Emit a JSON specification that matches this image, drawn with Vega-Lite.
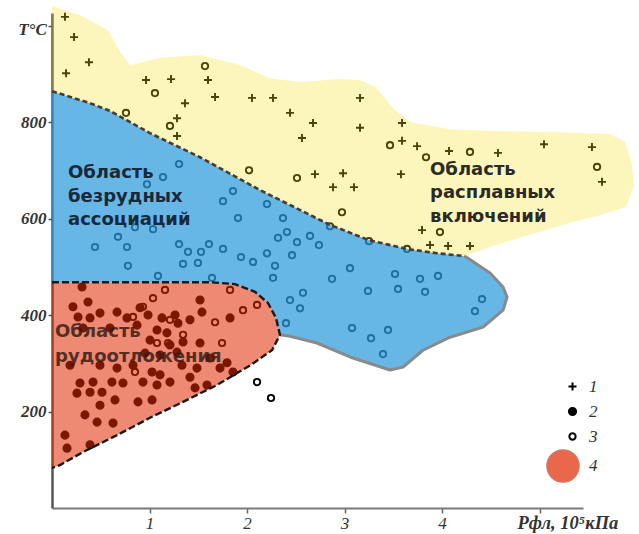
{
  "$schema": "https://vega.github.io/schema/vega-lite/v6.json",
  "width": 531,
  "height": 495,
  "autosize": {"type": "none"},
  "padding": {"left": 52, "top": 13, "right": 56, "bottom": 26},
  "background": "white",
  "config": {"view": {"stroke": null}},
  "datasets": {
    "pts": [
      {"type":"1","x":0.133,"T":1018},{"type":"1","x":0.226,"T":976},{"type":"1","x":0.379,"T":924},{"type":"1","x":0.144,"T":901},{"type":"1","x":0.964,"T":887},{"type":"1","x":1.221,"T":889},{"type":"1","x":1.6,"T":887},{"type":"1","x":1.364,"T":839},{"type":"1","x":1.672,"T":852},{"type":"1","x":2.051,"T":850},{"type":"1","x":2.267,"T":850},{"type":"1","x":2.441,"T":819},{"type":"1","x":1.282,"T":808},{"type":"1","x":1.282,"T":771},{"type":"1","x":2.677,"T":798},{"type":"1","x":2.564,"T":767},{"type":"1","x":3.159,"T":850},{"type":"1","x":3.159,"T":788},{"type":"1","x":3.59,"T":798},{"type":"1","x":3.59,"T":761},{"type":"1","x":3.744,"T":750},{"type":"1","x":4.072,"T":740},{"type":"1","x":4.574,"T":736},{"type":"1","x":5.046,"T":754},{"type":"1","x":5.538,"T":748},{"type":"1","x":5.641,"T":676},{"type":"1","x":2.697,"T":692},{"type":"1","x":2.985,"T":694},{"type":"1","x":2.882,"T":665},{"type":"1","x":3.097,"T":665},{"type":"1","x":3.579,"T":692},{"type":"1","x":3.795,"T":576},{"type":"1","x":3.877,"T":545},{"type":"1","x":4.062,"T":543},{"type":"1","x":4.287,"T":543},
      {"type":"3","x":1.569,"T":916},{"type":"3","x":1.056,"T":860},{"type":"3","x":0.759,"T":819},{"type":"3","x":1.21,"T":792},{"type":"3","x":2.021,"T":700},{"type":"3","x":2.513,"T":684},{"type":"3","x":3.467,"T":752},{"type":"3","x":3.836,"T":727},{"type":"3","x":4.287,"T":738},{"type":"3","x":5.59,"T":707},{"type":"3","x":2.974,"T":613},{"type":"3","x":3.979,"T":572},{"type":"3","x":2.851,"T":584},{"type":"3","x":3.251,"T":553},{"type":"3","x":3.641,"T":537},
      {"type":"3","x":1.303,"T":713},{"type":"3","x":1.138,"T":686},{"type":"3","x":0.974,"T":671},{"type":"3","x":1.856,"T":657},{"type":"3","x":1.754,"T":636},{"type":"3","x":2.205,"T":630},{"type":"3","x":1.908,"T":601},{"type":"3","x":2.369,"T":601},{"type":"3","x":2.41,"T":572},{"type":"3","x":2.318,"T":560},{"type":"3","x":0.677,"T":562},{"type":"3","x":0.769,"T":541},{"type":"3","x":0.441,"T":541},{"type":"3","x":1.303,"T":547},{"type":"3","x":1.395,"T":531},{"type":"3","x":1.528,"T":531},{"type":"3","x":1.61,"T":547},{"type":"3","x":1.754,"T":537},{"type":"3","x":1.344,"T":506},{"type":"3","x":1.497,"T":508},{"type":"3","x":1.938,"T":520},{"type":"3","x":2.062,"T":510},{"type":"3","x":2.205,"T":528},{"type":"3","x":2.287,"T":502},{"type":"3","x":0.779,"T":502},{"type":"3","x":1.087,"T":481},{"type":"3","x":1.641,"T":477},{"type":"3","x":2.267,"T":477},{"type":"3","x":0.851,"T":582},{"type":"3","x":1.036,"T":578},{"type":"3","x":2.513,"T":551},{"type":"3","x":2.646,"T":564},{"type":"3","x":2.738,"T":545},{"type":"3","x":2.462,"T":524},{"type":"3","x":3.056,"T":497},{"type":"3","x":2.872,"T":475},{"type":"3","x":3.518,"T":485},{"type":"3","x":3.241,"T":450},{"type":"3","x":3.549,"T":454},{"type":"3","x":3.774,"T":475},{"type":"3","x":3.826,"T":448},{"type":"3","x":3.959,"T":481},{"type":"3","x":4.41,"T":433},{"type":"3","x":4.338,"T":408},{"type":"3","x":2.574,"T":446},{"type":"3","x":2.441,"T":431},{"type":"3","x":2.544,"T":414},{"type":"3","x":2.4,"T":383},{"type":"3","x":3.077,"T":373},{"type":"3","x":3.446,"T":369},{"type":"3","x":3.272,"T":352},{"type":"3","x":3.395,"T":319},
      {"type":"3","x":2.103,"T":261},{"type":"3","x":2.246,"T":228},
      {"type":"3","x":1.159,"T":452},{"type":"3","x":1.036,"T":435},{"type":"3","x":0.933,"T":417},{"type":"3","x":0.831,"T":396},{"type":"3","x":1.21,"T":390},{"type":"3","x":1.344,"T":359},{"type":"3","x":1.19,"T":342},{"type":"3","x":1.077,"T":342},{"type":"3","x":1.672,"T":385},{"type":"3","x":1.826,"T":452},{"type":"3","x":1.959,"T":410},{"type":"3","x":2.103,"T":421},{"type":"3","x":1.744,"T":342},{"type":"3","x":0.851,"T":282},
      {"type":"2","x":0.308,"T":458},{"type":"2","x":0.369,"T":427},{"type":"2","x":0.215,"T":417},{"type":"2","x":0.492,"T":404},{"type":"2","x":0.267,"T":396},{"type":"2","x":0.39,"T":394},{"type":"2","x":0.318,"T":373},{"type":"2","x":0.595,"T":373},{"type":"2","x":0.903,"T":415},{"type":"2","x":0.985,"T":400},{"type":"2","x":0.872,"T":379},{"type":"2","x":1.128,"T":394},{"type":"2","x":1.262,"T":400},{"type":"2","x":1.518,"T":431},{"type":"2","x":1.538,"T":406},{"type":"2","x":1.415,"T":390},{"type":"2","x":1.292,"T":383},{"type":"2","x":1.826,"T":394},{"type":"2","x":1.077,"T":369},{"type":"2","x":1.179,"T":363},{"type":"2","x":1.005,"T":348},{"type":"2","x":1.21,"T":338},{"type":"2","x":0.954,"T":321},{"type":"2","x":0.831,"T":296},{"type":"2","x":0.185,"T":296},{"type":"2","x":0.492,"T":296},{"type":"2","x":0.667,"T":290},{"type":"2","x":0.421,"T":261},{"type":"2","x":0.287,"T":259},{"type":"2","x":0.615,"T":261},{"type":"2","x":0.728,"T":259},{"type":"2","x":0.933,"T":261},{"type":"2","x":1.026,"T":282},{"type":"2","x":1.108,"T":276},{"type":"2","x":1.21,"T":261},{"type":"2","x":1.333,"T":296},{"type":"2","x":1.415,"T":271},{"type":"2","x":1.487,"T":290},{"type":"2","x":1.621,"T":311},{"type":"2","x":1.723,"T":290},{"type":"2","x":1.795,"T":301},{"type":"2","x":1.59,"T":255},{"type":"2","x":1.467,"T":249},{"type":"2","x":1.077,"T":255},{"type":"2","x":0.256,"T":238},{"type":"2","x":0.513,"T":240},{"type":"2","x":0.39,"T":240},{"type":"2","x":0.646,"T":224},{"type":"2","x":0.492,"T":213},{"type":"2","x":0.882,"T":220},{"type":"2","x":1.026,"T":224},{"type":"2","x":0.338,"T":193},{"type":"2","x":0.462,"T":178},{"type":"2","x":0.626,"T":176},{"type":"2","x":0.133,"T":151},{"type":"2","x":0.154,"T":124},{"type":"2","x":0.39,"T":131},{"type":"2","x":1.282,"T":323},{"type":"2","x":1.344,"T":344},{"type":"2","x":1.518,"T":342},{"type":"2","x":1.108,"T":317},{"type":"2","x":0.769,"T":394},{"type":"2","x":0.667,"T":406},{"type":"2","x":1.856,"T":282}
    ],
    "melt": [
      {"i":0,"x":0,"T":1040},{"i":1,"x":0.287,"T":1022},{"i":2,"x":0.574,"T":991},{"i":3,"x":0.677,"T":953},{"i":4,"x":0.8,"T":918},{"i":5,"x":1.108,"T":933},{"i":6,"x":1.518,"T":939},{"i":7,"x":1.928,"T":918},{"i":8,"x":2.236,"T":891},{"i":9,"x":2.544,"T":883},{"i":10,"x":2.954,"T":889},{"i":11,"x":3.159,"T":887},{"i":12,"x":3.313,"T":873},{"i":13,"x":3.518,"T":825},{"i":14,"x":3.672,"T":800},{"i":15,"x":4.082,"T":785},{"i":16,"x":4.595,"T":781},{"i":17,"x":5.21,"T":779},{"i":18,"x":5.723,"T":775},{"i":19,"x":5.877,"T":759},{"i":20,"x":5.949,"T":711},{"i":21,"x":5.969,"T":669},{"i":22,"x":5.887,"T":624},{"i":23,"x":5.621,"T":607},{"i":24,"x":5.344,"T":593},{"i":25,"x":4.831,"T":562},{"i":26,"x":4.492,"T":541},{"i":27,"x":4.236,"T":522},{"i":28,"x":3.949,"T":528},{"i":29,"x":3.641,"T":537},{"i":30,"x":3.251,"T":555},{"i":31,"x":2.851,"T":587},{"i":32,"x":2.749,"T":597},{"i":33,"x":2.441,"T":628},{"i":34,"x":2.133,"T":659},{"i":35,"x":1.518,"T":727},{"i":36,"x":1.005,"T":777},{"i":37,"x":0.595,"T":823},{"i":38,"x":0.39,"T":839},{"i":39,"x":0,"T":864}
    ],
    "barren": [
      {"i":0,"x":0,"T":864},{"i":1,"x":0.39,"T":839},{"i":2,"x":0.595,"T":823},{"i":3,"x":1.005,"T":777},{"i":4,"x":1.518,"T":727},{"i":5,"x":2.133,"T":659},{"i":6,"x":2.441,"T":628},{"i":7,"x":2.749,"T":597},{"i":8,"x":2.851,"T":587},{"i":9,"x":3.251,"T":555},{"i":10,"x":3.641,"T":537},{"i":11,"x":3.949,"T":528},{"i":12,"x":4.236,"T":522},{"i":13,"x":4.492,"T":487},{"i":14,"x":4.626,"T":458},{"i":15,"x":4.667,"T":437},{"i":16,"x":4.626,"T":410},{"i":17,"x":4.421,"T":375},{"i":18,"x":4.082,"T":354},{"i":19,"x":3.805,"T":327},{"i":20,"x":3.6,"T":292},{"i":21,"x":3.467,"T":286},{"i":22,"x":3.056,"T":313},{"i":23,"x":2.718,"T":342},{"i":24,"x":2.441,"T":356},{"i":25,"x":2.338,"T":359},{"i":26,"x":2.297,"T":394},{"i":27,"x":2.215,"T":425},{"i":28,"x":2.082,"T":448},{"i":29,"x":1.877,"T":464},{"i":30,"x":1.621,"T":468},{"i":31,"x":0,"T":468}
    ],
    "ore": [
      {"i":0,"x":0,"T":468,"zone":"4"},{"i":1,"x":1.621,"T":468,"zone":"4"},{"i":2,"x":1.877,"T":464,"zone":"4"},{"i":3,"x":2.082,"T":448,"zone":"4"},{"i":4,"x":2.215,"T":425,"zone":"4"},{"i":5,"x":2.297,"T":394,"zone":"4"},{"i":6,"x":2.338,"T":359,"zone":"4"},{"i":7,"x":2.256,"T":327,"zone":"4"},{"i":8,"x":2.051,"T":298,"zone":"4"},{"i":9,"x":1.692,"T":255,"zone":"4"},{"i":10,"x":1.344,"T":220,"zone":"4"},{"i":11,"x":1.005,"T":187,"zone":"4"},{"i":12,"x":0.667,"T":151,"zone":"4"},{"i":13,"x":0.318,"T":116,"zone":"4"},{"i":14,"x":0.082,"T":89,"zone":"4"},{"i":15,"x":0,"T":83,"zone":"4"}
    ],
    "lblBlue": [
      {"s":"Область","x":0.164,"T":694},{"s":"безрудных","x":0.164,"T":645},{"s":"ассоциаций","x":0.164,"T":597}
    ],
    "lblYellow": [
      {"s":"Область","x":3.877,"T":700},{"s":"расплавных","x":3.877,"T":653},{"s":"включений","x":3.877,"T":603}
    ],
    "lblOre": [
      {"s":"Область","x":0.031,"T":365},{"s":"рудоотложения","x":0.031,"T":313}
    ]
  },
  "encoding": {
    "x": {"field":"x","type":"quantitative",
      "scale":{"domain":[0,5.446],"nice":false,"zero":false},
      "axis":{"values":[1,2,3,4,5],"format":"d","labelExpr":"datum.value == 5 ? '' : datum.label","grid":false,
        "domainColor":"#7a7a7a","domainWidth":2,"tickColor":"#666","tickWidth":1.5,"tickSize":5,
        "labelFont":"Liberation Serif","labelFontStyle":"italic","labelFontSize":17,"labelColor":"#333","labelPadding":2,
        "title":"Рфл, 10⁵кПа","titleFont":"Liberation Serif","titleFontStyle":"italic","titleFontWeight":"bold","titleFontSize":18.5,
        "titleColor":"#333","titleX":465,"titleY":14,"titleAlign":"left","titleBaseline":"middle","titleAnchor":null}},
    "y": {"field":"T","type":"quantitative",
      "scale":{"domain":[0,1026],"nice":false,"zero":false},
      "axis":{"values":[200,400,600,800,1000],"format":"d","labelExpr":"datum.value == 1000 ? '' : datum.label","grid":false,
        "domainColor":"#555","domainWidth":2.5,"tickColor":"#555","tickWidth":1.5,"tickSize":4,
        "labelFont":"Liberation Serif","labelFontStyle":"italic","labelFontWeight":"bold","labelFontSize":17,"labelColor":"#333","labelPadding":2,
        "title":"T°C","titleFont":"Liberation Serif","titleFontStyle":"italic","titleFontWeight":"bold","titleFontSize":17,
        "titleColor":"#333","titleAngle":0,"titleX":-20,"titleY":16,"titleAlign":"center","titleBaseline":"middle"}}
  },
  "layer": [
    {
      "data": {"name": "pts"},
      "mark": {"type": "point", "strokeWidth": 1.9, "opacity": 1},
      "encoding": {
        "shape": {"field":"type","type":"nominal","scale":{"domain":["1","2","3"],"range":["M-1,0L1,0M0,-1L0,1","circle","circle"]},
          "legend":{"title":null,"orient":"none","legendX":512,"legendY":365,"padding":0,"symbolStrokeWidth":2,"rowPadding":7,
            "labelFont":"Liberation Serif","labelFontStyle":"italic","labelFontSize":17,"labelColor":"#333","labelOffset":8}},
        "fill": {"field":"type","type":"nominal","scale":{"domain":["1","2","3"],"range":["transparent","#000","transparent"]},
          "legend":{"title":null,"orient":"none","legendX":512,"legendY":365,"padding":0,"symbolStrokeWidth":2,"rowPadding":7,
            "labelFont":"Liberation Serif","labelFontStyle":"italic","labelFontSize":17,"labelColor":"#333","labelOffset":8}},
        "stroke": {"field":"type","type":"nominal","scale":{"domain":["1","2","3"],"range":["#000","#000","#000"]},
          "legend":{"title":null,"orient":"none","legendX":512,"legendY":365,"padding":0,"symbolStrokeWidth":2,"rowPadding":7,
            "labelFont":"Liberation Serif","labelFontStyle":"italic","labelFontSize":17,"labelColor":"#333","labelOffset":8}},
        "size": {"field":"type","type":"nominal","scale":{"domain":["1","2","3"],"range":[64,40,30]},
          "legend":{"title":null,"orient":"none","legendX":512,"legendY":365,"padding":0,"symbolStrokeWidth":2,"rowPadding":7,
            "labelFont":"Liberation Serif","labelFontStyle":"italic","labelFontSize":17,"labelColor":"#333","labelOffset":8}}
      }
    },
    {
      "data": {"name": "melt"},
      "mark": {"type":"line","interpolate":"linear-closed","filled":true,"fill":"#f5e126","opacity":0.3,"strokeWidth":0},
      "encoding": {"order":{"field":"i","type":"quantitative"}}
    },
    {
      "data": {"name": "barren"},
      "mark": {"type":"line","interpolate":"linear-closed","filled":true,"fill":"#2d9bdc","opacity":0.72,"strokeWidth":0},
      "encoding": {"order":{"field":"i","type":"quantitative"}}
    },
    {
      "data": {"name": "ore"},
      "mark": {"type":"line","interpolate":"linear-closed","filled":true,"opacity":0.55,"strokeWidth":0},
      "encoding": {
        "order":{"field":"i","type":"quantitative"},
        "color":{"field":"zone","type":"nominal","scale":{"domain":["4"],"range":["#e02800"]},
          "legend":{"title":null,"orient":"none","legendX":494,"legendY":436,"padding":0,"symbolType":"circle","symbolSize":1050,
            "symbolOpacity":0.7,"symbolStrokeColor":"#b8462a","symbolStrokeWidth":1.2,
            "labelFont":"Liberation Serif","labelFontStyle":"italic","labelFontSize":17,"labelColor":"#333","labelOffset":9}}
      }
    },
    {
      "data": {"name": "barren"},
      "transform": [{"filter": "datum.i <= 12"}],
      "mark": {"type":"line","stroke":"#4a3b2c","strokeWidth":2.6,"strokeDash":[5,3]},
      "encoding": {"order":{"field":"i","type":"quantitative"}}
    },
    {
      "data": {"name": "barren"},
      "transform": [{"filter": "datum.i >= 12 && datum.i <= 25"}],
      "mark": {"type":"line","stroke":"#8a8a8a","strokeWidth":3,"strokeJoin":"round"},
      "encoding": {"order":{"field":"i","type":"quantitative"}}
    },
    {
      "data": {"name": "ore"},
      "mark": {"type":"line","stroke":"#1a1a1a","strokeWidth":2.4,"strokeDash":[7,3]},
      "encoding": {"order":{"field":"i","type":"quantitative"}}
    },
    {
      "data": {"name": "lblBlue"},
      "mark": {"type":"text","align":"left","baseline":"middle","font":"DejaVu Sans","fontWeight":"bold","fontSize":18,"fill":"#17293b"},
      "encoding": {"text":{"field":"s"}}
    },
    {
      "data": {"name": "lblYellow"},
      "mark": {"type":"text","align":"left","baseline":"middle","font":"DejaVu Sans","fontWeight":"bold","fontSize":18,"fill":"#2b2a24"},
      "encoding": {"text":{"field":"s"}}
    },
    {
      "data": {"name": "lblOre"},
      "mark": {"type":"text","align":"left","baseline":"middle","font":"DejaVu Sans","fontWeight":"bold","fontSize":18,"fill":"#3b1d14","opacity":0.85},
      "encoding": {"text":{"field":"s"}}
    }
  ]
}
